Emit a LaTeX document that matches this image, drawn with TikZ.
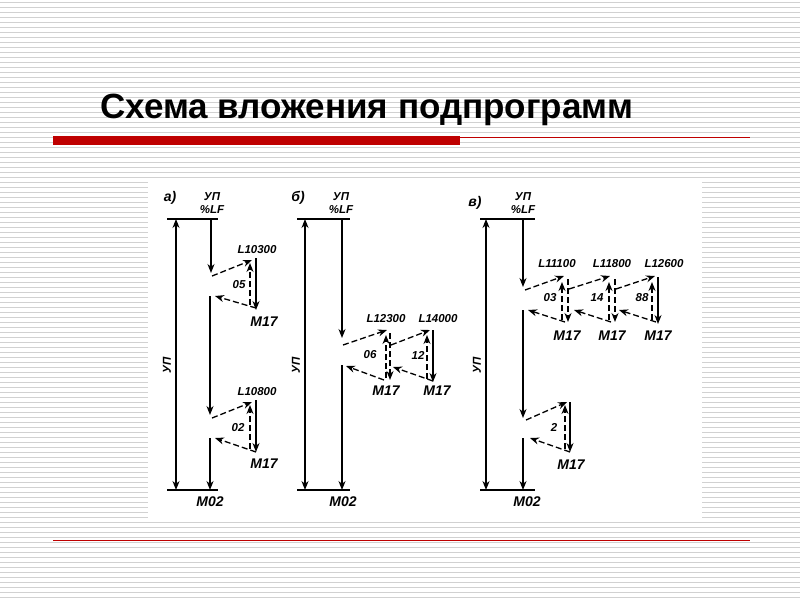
\documentclass[tikz,border=0pt]{standalone}
\usepackage{fontspec}
\setmainfont{Liberation Sans}
\usetikzlibrary{arrows.meta}
\begin{document}
\begin{tikzpicture}[x=1pt,y=-1pt,
  ln/.style={line width=1.3pt},
  ar/.style={ln,-{Stealth[length=9pt,width=7pt]}},
  da/.style={ar,dash pattern=on 6pt off 3pt},
  dar/.style={ln,{Stealth[length=9pt,width=7pt]}-{Stealth[length=9pt,width=7pt]}},
  lb/.style={font=\bfseries\itshape\fontsize{14}{14}\selectfont},
  sl/.style={font=\bfseries\itshape\fontsize{11.5}{12}\selectfont}]
\useasboundingbox (0,0) rectangle (800,600);
\fill[white] (0,0) rectangle (800,600);
\foreach \y in {2,7,...,598} \draw[black!18,line width=0.6pt] (0,\y) -- (800,\y);
\fill[white] (148,180) rectangle (702,520);
\node[font=\bfseries\fontsize{35}{35}\selectfont,anchor=west,inner sep=0pt] (title) at (100,110) {Схема вложения подпрограмм};
\fill[red!75!black] (53,136) rectangle (460,145);
\draw[red!75!black,line width=0.6pt] (460,137) -- (750,137);
\draw[red!75!black,line width=0.6pt] (53,540) -- (750,540);
% panel a
\node[lb] (la) at (170,198) {а)};
\node[sl] (ua) at (212,197) {УП};
\node[sl] (pa) at (212,210) {\%LF};
\draw[ln] (167,219) -- (218,219);
\draw[ln] (167,490) -- (218,490);
\draw[dar] (176,219) -- (176,490);
\node[sl,rotate=90] (va) at (167,365) {УП};
\draw[ar] (211,219) -- (211,273);
\draw[da] (212,276) -- (252,260);
\node[sl] (a1) at (257,250) {L10300};
\draw[ar] (256,258) -- (256,310);
\draw[da] (250,305) -- (250,263);
\node[sl] (a05) at (239,285) {05};
\draw[da] (256,308) -- (215,296);
\node[lb] (am1) at (264,322) {M17};
\draw[ar] (210,296) -- (210,415);
\draw[da] (212,418) -- (252,402);
\node[sl] (a2) at (257,392) {L10800};
\draw[ar] (256,400) -- (256,452);
\draw[da] (250,449) -- (250,405);
\node[sl] (a02) at (238,428) {02};
\draw[da] (256,452) -- (215,438);
\node[lb] (am2) at (264,464) {M17};
\draw[ar] (210,438) -- (210,490);
\node[lb] (ma) at (210,502) {M02};
% panel b
\node[lb] (lb1) at (298,198) {б)};
\node[sl] (ub) at (341,197) {УП};
\node[sl] (pb) at (341,210) {\%LF};
\draw[ln] (297,219) -- (350,219);
\draw[ln] (297,490) -- (350,490);
\draw[dar] (305,219) -- (305,490);
\node[sl,rotate=90] (vb) at (296,365) {УП};
\draw[ar] (342,219) -- (342,338);
\draw[da] (343,345) -- (387,330);
\node[sl] (b1) at (386,319) {L12300};
\draw[da] (390,333) -- (390,380);
\draw[da] (386,378) -- (386,335);
\node[sl] (b06) at (370,355) {06};
\draw[da] (391,345) -- (430,330);
\node[sl] (b2) at (438,319) {L14000};
\draw[ar] (433,330) -- (433,382);
\draw[da] (427,379) -- (427,335);
\node[sl] (b12) at (418,355) {12};
\draw[da] (433,381) -- (393,367);
\node[lb] (bm2) at (437,391) {M17};
\draw[da] (384,380) -- (346,366);
\node[lb] (bm1) at (386,391) {M17};
\draw[ar] (342,365) -- (342,490);
\node[lb] (mb) at (343,502) {M02};
% panel c
\node[lb] (lc) at (475,203) {в)};
\node[sl] (uc) at (523,197) {УП};
\node[sl] (pc) at (523,210) {\%LF};
\draw[ln] (480,219) -- (535,219);
\draw[ln] (480,490) -- (535,490);
\draw[dar] (486,219) -- (486,490);
\node[sl,rotate=90] (vc) at (477,365) {УП};
\draw[ar] (523,219) -- (523,287);
\draw[da] (525,290) -- (564,276);
\node[sl] (c1) at (557,264) {L11100};
\draw[da] (568,279) -- (568,322);
\draw[da] (562,320) -- (562,282);
\node[sl] (c03) at (550,298) {03};
\draw[da] (569,289) -- (610,276);
\node[sl] (c2) at (612,264) {L11800};
\draw[da] (615,279) -- (615,322);
\draw[da] (609,320) -- (609,282);
\node[sl] (c14) at (597,298) {14};
\draw[da] (616,289) -- (655,276);
\node[sl] (c3) at (664,264) {L12600};
\draw[ar] (658,277) -- (658,324);
\draw[da] (652,320) -- (652,282);
\node[sl] (c88) at (642,298) {88};
\draw[da] (656,322) -- (619,310);
\draw[da] (611,322) -- (574,310);
\draw[da] (565,322) -- (528,310);
\node[lb] (cm1) at (567,336) {M17};
\node[lb] (cm2) at (612,336) {M17};
\node[lb] (cm3) at (658,336) {M17};
\draw[ar] (523,310) -- (523,418);
\draw[da] (526,420) -- (567,402);
\draw[ar] (570,402) -- (570,452);
\draw[da] (565,449) -- (565,405);
\node[sl] (c2b) at (554,427) {2};
\draw[da] (570,452) -- (530,438);
\node[lb] (cm4) at (571,465) {M17};
\draw[ar] (523,438) -- (523,490);
\node[lb] (mc) at (527,502) {M02};
\end{tikzpicture}
\end{document}
